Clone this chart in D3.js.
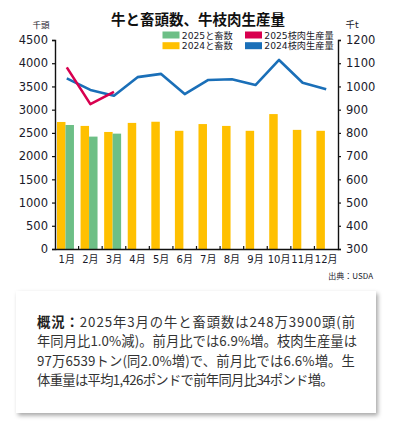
<!DOCTYPE html>
<html><head><meta charset="utf-8">
<script src="https://cdn.jsdelivr.net/npm/d3@7"></script>
<style>
body{margin:0;background:#fff;}
svg{display:block;}
</style></head>
<body>
<svg id="c" width="393" height="433"></svg>
<script>
const months = ["1月","2月","3月","4月","5月","6月","7月","8月","9月","10月","11月","12月"];
const slaughter2024 = [2735,2650,2520,2715,2740,2545,2690,2650,2545,2905,2565,2545];
const slaughter2025 = [2670,2420,2484];
const beef2024 = [1035,985,960,1040,1054,967,1028,1031,1006,1114,1016,988];
const beef2025 = [1082,924,977];
const leftTicks = [0,500,1000,1500,2000,2500,3000,3500,4000,4500];
const rightTicks = [300,400,500,600,700,800,900,1000,1100,1200];
const legendItems = [
  {label:"2025と畜数", color:"#6dbf86"},
  {label:"2024と畜数", color:"#ffc000"},
  {label:"2025枝肉生産量", color:"#d8004f"},
  {label:"2024枝肉生産量", color:"#1a6fb8"}
];
const titleText = "牛と畜頭数、牛枝肉生産量";
const noteLines = [
  ["概況：","2025年3月の牛と畜頭数は248万3900頭(前"],
  ["","年同月比1.0%減)。前月比では6.9%増。枝肉生産量は"],
  ["","97万6539トン(同2.0%増)で、前月比では6.6%増。生"],
  ["","体重量は平均1,426ポンドで前年同月比34ポンド増。"]
];
const noteWidths = [319, 320, 318, 296];

const svg = d3.select("#c");
const L = 55, R = 338, T = 40, B = 249;
const numFont = "'DejaVu Sans','Noto Sans CJK JP',sans-serif";
const cjkFont = "'Noto Sans CJK JP','DejaVu Sans',sans-serif";

const x = d3.scaleBand().domain(months).range([L, R]).padding(0);
const xs = d3.scaleBand().domain(["2024","2025"]).range([0, x.bandwidth()]).paddingInner(0).paddingOuter(0.39).align(0.3);
const yL = d3.scaleLinear().domain([0,4500]).range([B, T]);
const yR = d3.scaleLinear().domain([300,1200]).range([B, T]);

// bars
svg.append("g").selectAll("rect").data(slaughter2024).join("rect")
  .attr("x",(d,i)=>x(months[i])+xs("2024")).attr("width",xs.bandwidth())
  .attr("y",d=>yL(d)).attr("height",d=>B-yL(d)).attr("fill","#ffc000");
svg.append("g").selectAll("rect").data(slaughter2025).join("rect")
  .attr("x",(d,i)=>x(months[i])+xs("2025")).attr("width",xs.bandwidth())
  .attr("y",d=>yL(d)).attr("height",d=>B-yL(d)).attr("fill","#6dbf86");

// lines
const line = d3.line().x((d,i)=>x(months[i])+x.bandwidth()/2).y(d=>yR(d));
svg.append("path").datum(beef2024).attr("d",line).attr("fill","none")
  .attr("stroke","#1a6fb8").attr("stroke-width",2.6).attr("stroke-linejoin","round");
svg.append("path").datum(beef2025).attr("d",line).attr("fill","none")
  .attr("stroke","#d8004f").attr("stroke-width",2.6).attr("stroke-linejoin","round");

// axes
const axL = svg.append("g").attr("transform",`translate(${L},0)`)
  .call(d3.axisLeft(yL).tickValues(leftTicks).tickFormat(d3.format("d")).tickSize(3).tickPadding(4));
const axR = svg.append("g").attr("transform",`translate(${R},0)`)
  .call(d3.axisRight(yR).tickValues(rightTicks).tickFormat(d3.format("d")).tickSize(3).tickPadding(5));
const axB = svg.append("g").attr("transform",`translate(0,${B})`)
  .call(d3.axisBottom(x).tickSize(0).tickPadding(7));
[axL,axR].forEach(a=>{
  a.select(".domain").attr("stroke","#111").attr("stroke-width",1.4);
  a.selectAll(".tick line").attr("stroke","#111").attr("stroke-width",1.2);
  a.selectAll("text").attr("font-family",numFont).attr("font-size",11.5).attr("fill","#1a1a2a");
});
axB.select(".domain").attr("stroke","#111").attr("stroke-width",1.4);
axB.selectAll("text").attr("font-family",numFont).attr("font-size",10).attr("fill","#1a1a2a");
// boundary ticks on bottom axis (pointing up)
svg.append("g").selectAll("line").data(months.slice(1)).join("line")
  .attr("x1",d=>x(d)).attr("x2",d=>x(d)).attr("y1",B-3).attr("y2",B)
  .attr("stroke","#111").attr("stroke-width",1.2);

// unit labels
svg.append("text").attr("x",41).attr("y",28).attr("text-anchor","middle")
  .attr("font-family",cjkFont).attr("font-size",8.5).attr("fill","#1a1a2a").text("千頭");
svg.append("text").attr("x",352).attr("y",28).attr("text-anchor","middle")
  .attr("font-family",numFont).attr("font-size",9.5).attr("fill","#1a1a2a").text("千t");

// title
svg.append("text").attr("x",198).attr("y",25).attr("text-anchor","middle")
  .attr("font-family",cjkFont).attr("font-weight","bold").attr("font-size",14.5)
  .attr("fill","#111").text(titleText);

// legend
const lg = svg.append("g");
legendItems.forEach((d,i)=>{
  const col = Math.floor(i/2), row = i%2;
  const gx = col===0 ? 162.5 : 245, gy = 31.5 + row*10.7;
  lg.append("rect").attr("x",gx).attr("y",gy).attr("width",17).attr("height",7).attr("fill",d.color);
  lg.append("text").attr("x",gx+19.3).attr("y",gy+7).attr("font-family",numFont)
    .attr("font-size",9.2).attr("fill","#1a1a2a").text(d.label);
});

// source
svg.append("text").attr("x",373).attr("y",279).attr("text-anchor","end")
  .attr("font-family",cjkFont).attr("font-size",8).attr("fill","#1a1a2a").text("出典：USDA");

// note box
const defs = svg.append("defs");
const f = defs.append("filter").attr("id","sh").attr("x","-5%").attr("y","-5%").attr("width","115%").attr("height","120%");
f.append("feDropShadow").attr("dx",2).attr("dy",2.5).attr("stdDeviation",2).attr("flood-color","#000").attr("flood-opacity",0.35);
svg.append("rect").attr("x",16).attr("y",291).attr("width",360).attr("height",122)
  .attr("fill","#fff").attr("filter","url(#sh)");
const nt = svg.append("g");
noteLines.forEach((ln,i)=>{
  const t = nt.append("text").attr("x",37).attr("y",327+i*19.3)
    .attr("font-family",cjkFont).attr("font-size",13.3).attr("fill","#333");
  if(ln[0]) t.append("tspan").attr("font-weight","bold").attr("fill","#222").text(ln[0]);
  t.append("tspan").text(ln[1]);
  const natural = t.node().getComputedTextLength();
  const n = (ln[0]+ln[1]).length;
  const ls = (noteWidths[i]-natural)/n;
  t.attr("letter-spacing", ls.toFixed(3));
});
</script>
</body></html>
